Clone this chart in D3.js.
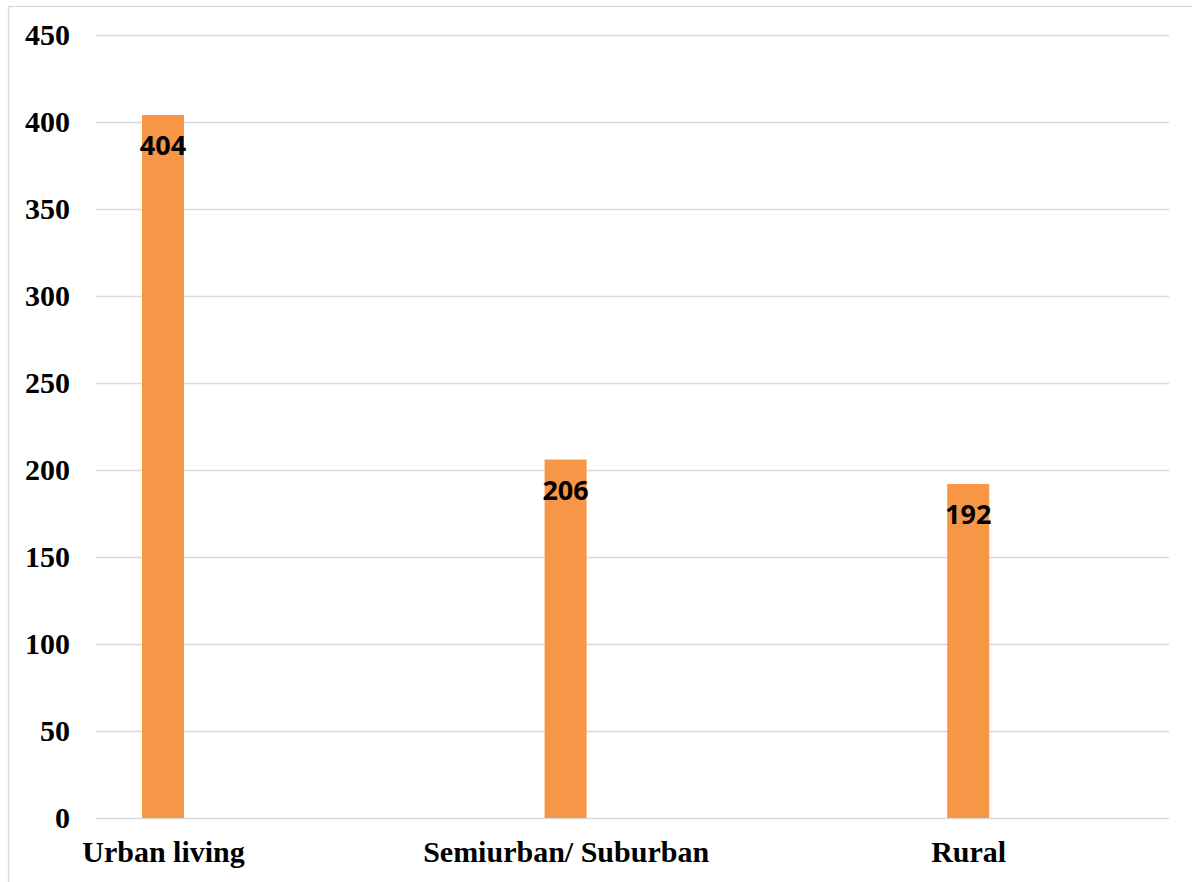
<!DOCTYPE html>
<html>
<head>
<meta charset="utf-8">
<script src="https://cdn.jsdelivr.net/npm/d3@7"></script>
<style>
  html, body { margin: 0; padding: 0; background: #fff; }
  svg { display: block; }
</style>
</head>
<body>
<svg id="chart" width="1192" height="882"></svg>
<script>
const categories = ["Urban living", "Semiurban/ Suburban", "Rural"];
const values = [404, 206, 192];
const yTicks = [0, 50, 100, 150, 200, 250, 300, 350, 400, 450];

const svg = d3.select("#chart");
const W = 1192, H = 882;

// outer frame
svg.append("rect")
  .attr("x", 8.5).attr("y", 6.5)
  .attr("width", W + 10).attr("height", H + 10)
  .attr("fill", "#fff")
  .attr("stroke", "#d9d9d9").attr("stroke-width", 1.3);

const gridLeft = 96, gridRight = 1169;
const y = d3.scaleLinear().domain([0, 450]).range([818, 35]);
const x = d3.scalePoint().domain(categories).range([-38.3, 1169.5]).padding(0.5);
const barW = 42;

// gridlines + y labels via axis
const yAxis = d3.axisLeft(y).tickValues(yTicks).tickSize(0).tickPadding(0);
const ga = svg.append("g").attr("transform", `translate(${gridLeft},0)`).call(yAxis);
ga.select(".domain").remove();
ga.selectAll(".tick line")
  .attr("x2", gridRight - gridLeft)
  .attr("stroke", "#d9d9d9").attr("stroke-width", 1.3);
ga.selectAll(".tick text")
  .attr("x", 70 - gridLeft)
  .attr("dy", "0.33em")
  .attr("font-family", "'Liberation Serif', 'Times New Roman', serif")
  .attr("font-weight", "bold")
  .attr("font-size", 30)
  .attr("fill", "#000")
  .attr("text-anchor", "end");

// bars
svg.append("g").selectAll("rect")
  .data(values)
  .join("rect")
  .attr("x", (d, i) => x(categories[i]) - barW / 2)
  .attr("y", d => y(d))
  .attr("width", barW)
  .attr("height", d => y(0) - y(d))
  .attr("fill", "#F79646");

// value labels
svg.append("g").selectAll("text")
  .data(values)
  .join("text")
  .attr("x", (d, i) => x(categories[i]))
  .attr("y", d => y(d) + 40)
  .attr("text-anchor", "middle")
  .attr("font-family", "'Open Sans', 'Noto Sans', sans-serif")
  .attr("font-weight", "bold")
  .attr("font-size", 27)
  .attr("fill", "#000")
  .text(d => d);

// x axis labels
const xAxis = d3.axisBottom(x).tickSize(0).tickPadding(0);
const gx = svg.append("g").attr("transform", `translate(0,862)`).call(xAxis);
gx.select(".domain").remove();
gx.selectAll(".tick text")
  .attr("y", 0).attr("dy", 0)
  .attr("font-family", "'Liberation Serif', 'Times New Roman', serif")
  .attr("font-weight", "bold")
  .attr("font-size", 30)
  .attr("fill", "#000");
</script>
</body>
</html>
